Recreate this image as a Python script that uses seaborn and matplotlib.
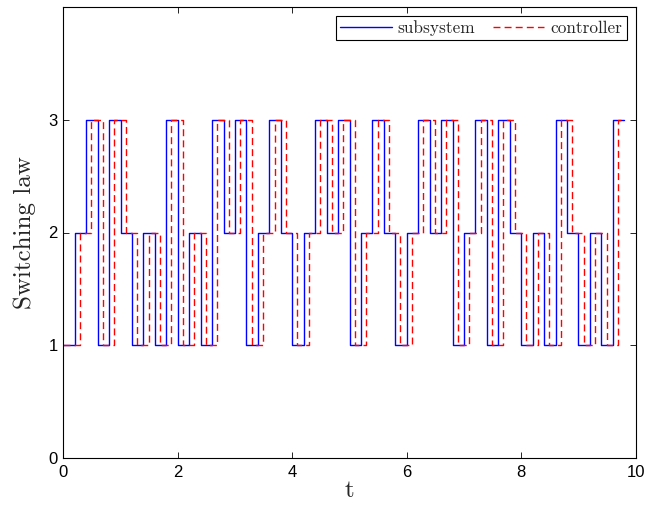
import matplotlib
matplotlib.use("Agg")
import matplotlib.pyplot as plt
import pandas as pd
import seaborn as sns

# Switching instants and active mode of the subsystem (last point closes the final step)
sub_t = [0.0, 0.2, 0.4, 0.6, 0.8, 1.0, 1.2, 1.4, 1.6, 1.8,
         2.0, 2.2, 2.4, 2.6, 2.8, 3.0, 3.2, 3.4, 3.6, 3.8,
         4.0, 4.2, 4.4, 4.6, 4.8, 5.0, 5.2, 5.4, 5.6, 5.8,
         6.0, 6.2, 6.4, 6.6, 6.8, 7.0, 7.2, 7.4, 7.6, 7.8,
         8.0, 8.2, 8.4, 8.6, 8.8, 9.0, 9.2, 9.4, 9.6, 9.8]
sub_modes = [1, 2, 3, 1, 3, 2, 1, 2, 1, 3,
             1, 2, 1, 3, 2, 3, 1, 2, 3, 2,
             1, 2, 3, 2, 3, 1, 2, 3, 2, 1,
             2, 3, 2, 3, 1, 2, 3, 1, 3, 2,
             1, 2, 1, 3, 2, 1, 2, 1, 3, 3]

# Controller switching instants (lagging the subsystem) and its mode
ctrl_t = [0.0, 0.29, 0.49, 0.69, 0.89, 1.09, 1.29, 1.49, 1.69, 1.89,
          2.09, 2.29, 2.49, 2.69, 2.89, 3.09, 3.29, 3.49, 3.69, 3.89,
          4.09, 4.29, 4.49, 4.69, 4.89, 5.09, 5.29, 5.49, 5.69, 5.89,
          6.09, 6.29, 6.49, 6.69, 6.89, 7.09, 7.29, 7.49, 7.69, 7.89,
          8.09, 8.29, 8.49, 8.69, 8.89, 9.09, 9.29, 9.49, 9.69, 9.8]
ctrl_modes = [1, 2, 3, 1, 3, 2, 1, 2, 1, 3,
              1, 2, 1, 3, 2, 3, 1, 2, 3, 2,
              1, 2, 3, 2, 3, 1, 2, 3, 2, 1,
              2, 3, 2, 3, 1, 2, 3, 1, 3, 2,
              1, 2, 1, 3, 2, 1, 2, 1, 3, 3]

x_ticks = [0, 2, 4, 6, 8, 10]
y_ticks = [0, 1, 2, 3]

sns.set_theme(style="white")
plt.rcParams.update({
    "font.family": ["Liberation Sans", "DejaVu Sans"],
    "xtick.direction": "in",
    "ytick.direction": "in",
    "xtick.top": True,
    "ytick.right": True,
    "xtick.bottom": True,
    "ytick.left": True,
    "axes.edgecolor": "black",
    "axes.linewidth": 0.8,
})

sub_df = pd.DataFrame({"t": sub_t, "mode": sub_modes})
ctrl_df = pd.DataFrame({"t": ctrl_t, "mode": ctrl_modes})

fig = plt.figure(figsize=(6.56, 5.05), dpi=100)
ax = fig.add_axes([63.3 / 656, 1 - 458.3 / 505, (635.7 - 63.3) / 656, (458.3 - 6.7) / 505])

sns.lineplot(data=sub_df, x="t", y="mode", ax=ax, estimator=None, sort=False,
             drawstyle="steps-post", color="#0000ff", linewidth=1.0,
             label="subsystem")
sns.lineplot(data=ctrl_df, x="t", y="mode", ax=ax, estimator=None, sort=False,
             drawstyle="steps-post", color="#ff0000", linewidth=1.0,
             linestyle=(0, (5, 3)), label="controller")

ax.set_xlim(0, 10)
ax.set_ylim(0, 4)
ax.set_xticks(x_ticks)
ax.set_yticks(y_ticks)
ax.tick_params(axis="both", which="major", length=4, width=0.6,
               labelsize=12, colors="black")
ax.tick_params(axis="x", pad=5)
ax.tick_params(axis="y", pad=4)

ax.set_xlabel("t", fontfamily="cmr10", fontsize=18, labelpad=0)
ax.set_ylabel("Switching law", fontfamily="cmr10", fontsize=18, labelpad=9)

for s in ax.spines.values():
    s.set_visible(True)
    s.set_color("black")
    s.set_linewidth(0.8)

leg = ax.legend(loc="upper right", bbox_to_anchor=(0.984, 0.980),
                borderaxespad=0, ncol=2, fancybox=False, framealpha=1,
                edgecolor="black", handlelength=3.0, handletextpad=0.35,
                columnspacing=1.0, borderpad=0.25,
                prop={"family": "cmr10", "size": 12.4})
leg.get_frame().set_linewidth(0.8)

fig.savefig("out.png", dpi=100)
